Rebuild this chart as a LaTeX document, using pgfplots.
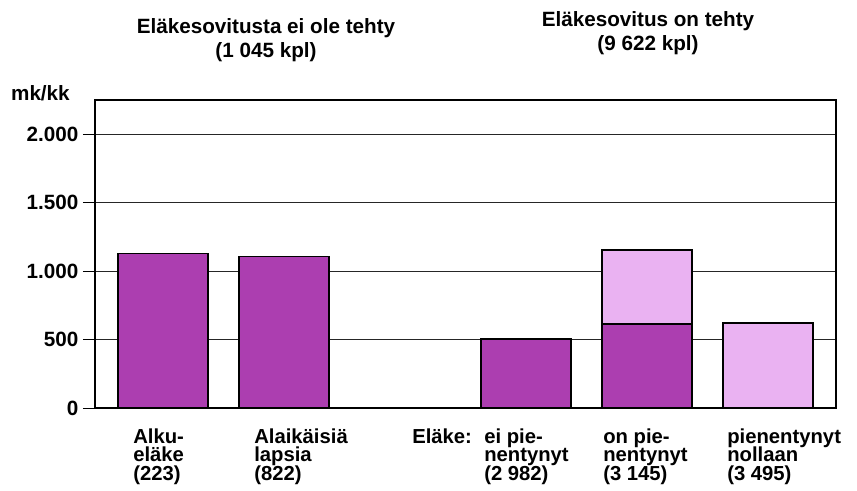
\documentclass[border=0pt]{standalone}
\usepackage{fontspec}
\setmainfont{Liberation Sans}
\usepackage{pgfplots}
\pgfplotsset{compat=1.18}
\definecolor{tumma}{RGB}{172,62,176}
\definecolor{vaalea}{RGB}{234,178,242}

\newcommand{\isofont}{\bfseries\fontsize{15.5}{18}\selectfont}
\newcommand{\labfont}{\bfseries\fontsize{15.2}{17}\selectfont}

\begin{document}
\begin{tikzpicture}
\begin{axis}[
  scale only axis, width=555.75pt, height=231pt,
  xmin=-0.56, xmax=5.56, ymin=0, ymax=2250,
  xtick=\empty,
  ytick={0,500,1000,1500,2000},
  yticklabels={0,500,1.000,1.500,2.000},
  ymajorgrids, grid style={black!85, line width=0.6pt},
  axis line style={line width=1pt},
  tick style={black, line width=0.6pt},
  major tick length=9pt, tick align=outside, ytick pos=left,
  yticklabel style={font=\isofont, anchor=east},
  /pgf/number format/assume math mode=true,
]
% vaalea osa ensin, tumma sen paalle
\addplot[ybar, bar width=0.743, bar shift=0pt, fill=vaalea, draw=black, line width=1.1pt]
  coordinates {(4,1155)(5,620)};
\addplot[ybar, bar width=0.743, bar shift=0pt, fill=tumma, draw=black, line width=1.1pt]
  coordinates {(0,1130)(1,1105)(3,505)(4,615)};
\end{axis}

% tekstit kuvan pikselikoordinaateissa
\begin{scope}[shift={(-71.25pt,306pt)}, x=0.75pt, y=-0.75pt]
  \node[font=\isofont, anchor=base east, inner sep=0pt] at (70,100) {mk/kk};
  \node[font=\isofont, anchor=base, inner sep=0pt] at (266,34) {Eläkesovitusta ei ole tehty};
  \node[font=\isofont, anchor=base, inner sep=0pt] at (266,58) {(1 045 kpl)};
  \node[font=\isofont, anchor=base, inner sep=0pt] at (648,27) {Eläkesovitus on tehty};
  \node[font=\isofont, anchor=base, inner sep=0pt] at (648,51) {(9 622 kpl)};
  \foreach \x/\a/\b/\c in {133/Alku-/eläke/(223), 254/Alaikäisiä/lapsia/(822),
      484/ei pie-/nentynyt/(2 982), 603/on pie-/nentynyt/(3 145),
      727/pienentynyt/nollaan/(3 495)} {
    \node[font=\labfont, anchor=base west, inner sep=0pt] at (\x,443) {\a};
    \node[font=\labfont, anchor=base west, inner sep=0pt] at (\x,461.5) {\b};
    \node[font=\labfont, anchor=base west, inner sep=0pt] at (\x,480) {\c};
  }
  \node[font=\labfont, anchor=base west, inner sep=0pt] at (412,443) {Eläke:};
  \pgfresetboundingbox
  \path[use as bounding box] (0,0) rectangle (857,490);
\end{scope}
\end{tikzpicture}
\end{document}
